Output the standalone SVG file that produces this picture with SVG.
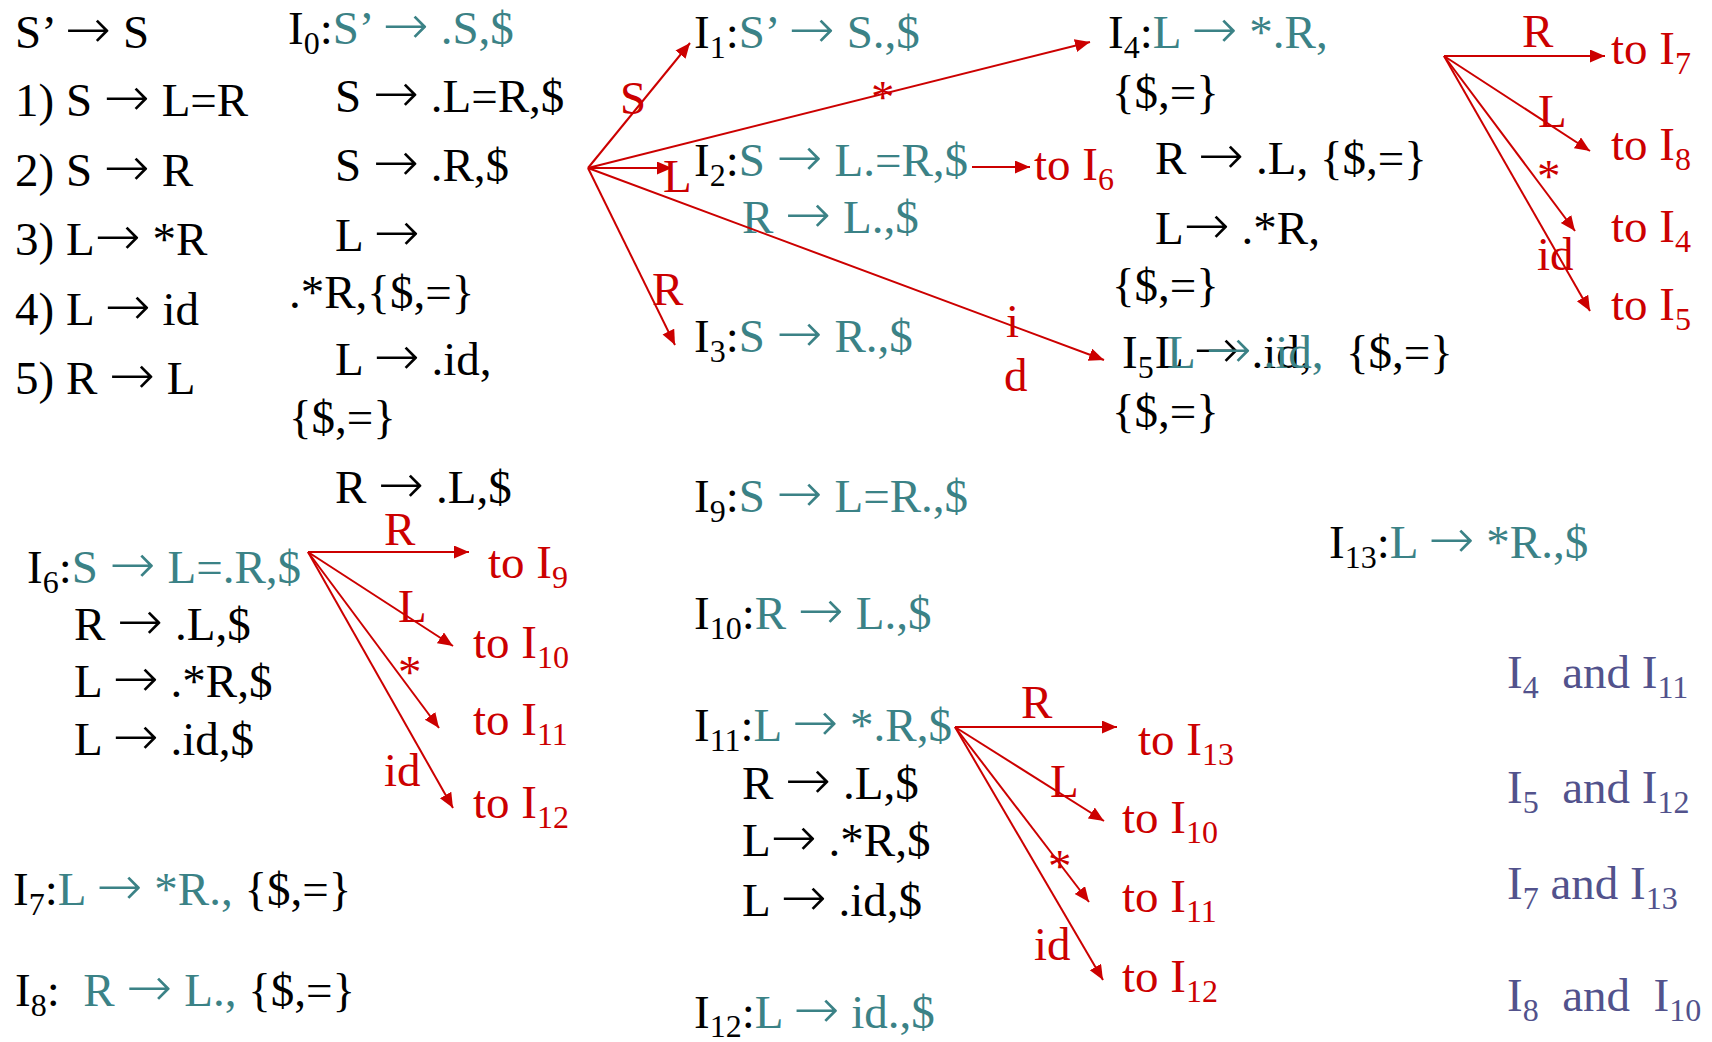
<svg xmlns="http://www.w3.org/2000/svg" width="1712" height="1042" viewBox="0 0 1712 1042">
<style>
text { font-family: "Liberation Serif", "Times New Roman", serif; font-size: 47px; fill: #000; }
.a { font-family: "DejaVu Sans", sans-serif; font-size: 55px; font-weight: 200; }
.c { fill: #3b8286; }
.r { fill: #cc0000; }
.p { fill: #52528c; }
.s { font-size: 32px; }
.e { stroke: #cc0000; stroke-width: 2; fill: none; marker-end: url(#ah); }
</style>
<defs>
<marker id="ah" markerUnits="userSpaceOnUse" markerWidth="16" markerHeight="14" refX="15" refY="6.5" orient="auto">
<path d="M0,0 L15,6.5 L0,13 z" fill="#cc0000"/>
</marker>
</defs>
<rect width="1712" height="1042" fill="#fff"/>

<g id="grammar">
<text x="15" y="48">S’ <tspan class="a">→</tspan> S</text>
<text x="15" y="116">1) S <tspan class="a">→</tspan> L=R</text>
<text x="15" y="186">2) S <tspan class="a">→</tspan> R</text>
<text x="15" y="255">3) L<tspan class="a">→</tspan> *R</text>
<text x="15" y="325">4) L <tspan class="a">→</tspan> id</text>
<text x="15" y="394">5) R <tspan class="a">→</tspan> L</text>
</g>

<g id="I0">
<text x="288" y="44">I<tspan class="s" dy="10">0</tspan><tspan dy="-10">:</tspan><tspan class="c">S’ <tspan class="a">→</tspan> .S,$</tspan></text>
<text x="335" y="112">S <tspan class="a">→</tspan> .L=R,$</text>
<text x="335" y="181">S <tspan class="a">→</tspan> .R,$</text>
<text x="335" y="251">L <tspan class="a">→</tspan></text>
<text x="289" y="308">.*R,{$,=}</text>
<text x="335" y="375">L <tspan class="a">→</tspan> .id,</text>
<text x="289" y="433">{$,=}</text>
<text x="335" y="503">R <tspan class="a">→</tspan> .L,$</text>
</g>

<g id="I1">
<text x="694" y="48">I<tspan class="s" dy="10">1</tspan><tspan dy="-10">:</tspan><tspan class="c">S’ <tspan class="a">→</tspan> S.,$</tspan></text>
</g>

<g id="I2">
<text x="694" y="176">I<tspan class="s" dy="10">2</tspan><tspan dy="-10">:</tspan><tspan class="c">S <tspan class="a">→</tspan> L.=R,$</tspan></text>
<text x="742" y="233" class="c">R <tspan class="a">→</tspan> L.,$</text>
<text x="1034" y="180" class="r">to I<tspan class="s" dy="10">6</tspan></text>
</g>

<g id="I3">
<text x="694" y="352">I<tspan class="s" dy="10">3</tspan><tspan dy="-10">:</tspan><tspan class="c">S <tspan class="a">→</tspan> R.,$</tspan></text>
</g>

<g id="I4">
<text x="1108" y="48">I<tspan class="s" dy="10">4</tspan><tspan dy="-10">:</tspan><tspan class="c">L <tspan class="a">→</tspan> *.R,</tspan></text>
<text x="1112" y="108">{$,=}</text>
<text x="1155" y="174">R <tspan class="a">→</tspan> .L, {$,=}</text>
<text x="1155" y="244">L<tspan class="a">→</tspan> .*R,</text>
<text x="1112" y="301">{$,=}</text>
<text x="1522" y="47" class="r">R</text>
<text x="1611" y="64" class="r">to I<tspan class="s" dy="10">7</tspan></text>
<text x="1538" y="127" class="r">L</text>
<text x="1611" y="160" class="r">to I<tspan class="s" dy="10">8</tspan></text>
<text x="1537" y="192" class="r">*</text>
<text x="1611" y="242" class="r">to I<tspan class="s" dy="10">4</tspan></text>
<text x="1537" y="270" class="r">id</text>
<text x="1611" y="320" class="r">to I<tspan class="s" dy="10">5</tspan></text>
</g>

<g id="I5">
<text x="1122" y="368">I<tspan class="s" dy="10">5</tspan><tspan dy="-10" x="1155">L <tspan class="a">→</tspan> .id,</tspan><tspan x="1346">{$,=}</tspan></text>
<text x="1167" y="368" class="c">L <tspan class="a">→</tspan> .id,</text>
<text x="1112" y="427">{$,=}</text>
</g>

<g id="I6">
<text x="27" y="583">I<tspan class="s" dy="10">6</tspan><tspan dy="-10">:</tspan><tspan class="c">S <tspan class="a">→</tspan> L=.R,$</tspan></text>
<text x="74" y="640">R <tspan class="a">→</tspan> .L,$</text>
<text x="74" y="697">L <tspan class="a">→</tspan> .*R,$</text>
<text x="74" y="755">L <tspan class="a">→</tspan> .id,$</text>
<text x="384" y="545" class="r">R</text>
<text x="488" y="578" class="r">to I<tspan class="s" dy="10">9</tspan></text>
<text x="398" y="622" class="r">L</text>
<text x="473" y="658" class="r">to I<tspan class="s" dy="10">10</tspan></text>
<text x="398" y="688" class="r">*</text>
<text x="473" y="735" class="r">to I<tspan class="s" dy="10">11</tspan></text>
<text x="384" y="786" class="r">id</text>
<text x="473" y="818" class="r">to I<tspan class="s" dy="10">12</tspan></text>
</g>

<g id="I7">
<text x="13" y="905">I<tspan class="s" dy="10">7</tspan><tspan dy="-10">:</tspan><tspan class="c">L <tspan class="a">→</tspan> *R.,</tspan> {$,=}</text>
</g>

<g id="I8">
<text x="15" y="1006" xml:space="preserve">I<tspan class="s" dy="10">8</tspan><tspan dy="-10">:  </tspan><tspan class="c">R <tspan class="a">→</tspan> L.,</tspan> {$,=}</text>
</g>

<g id="I9">
<text x="694" y="512">I<tspan class="s" dy="10">9</tspan><tspan dy="-10">:</tspan><tspan class="c">S <tspan class="a">→</tspan> L=R.,$</tspan></text>
</g>

<g id="I10">
<text x="694" y="629">I<tspan class="s" dy="10">10</tspan><tspan dy="-10">:</tspan><tspan class="c">R <tspan class="a">→</tspan> L.,$</tspan></text>
</g>

<g id="I11">
<text x="694" y="741">I<tspan class="s" dy="10">11</tspan><tspan dy="-10">:</tspan><tspan class="c">L <tspan class="a">→</tspan> *.R,$</tspan></text>
<text x="742" y="799">R <tspan class="a">→</tspan> .L,$</text>
<text x="742" y="856">L<tspan class="a">→</tspan> .*R,$</text>
<text x="742" y="916">L <tspan class="a">→</tspan> .id,$</text>
<text x="1021" y="718" class="r">R</text>
<text x="1138" y="755" class="r">to I<tspan class="s" dy="10">13</tspan></text>
<text x="1050" y="797" class="r">L</text>
<text x="1122" y="833" class="r">to I<tspan class="s" dy="10">10</tspan></text>
<text x="1048" y="882" class="r">*</text>
<text x="1122" y="912" class="r">to I<tspan class="s" dy="10">11</tspan></text>
<text x="1034" y="960" class="r">id</text>
<text x="1122" y="992" class="r">to I<tspan class="s" dy="10">12</tspan></text>
</g>

<g id="I12">
<text x="694" y="1028">I<tspan class="s" dy="9">12</tspan><tspan dy="-9">:</tspan><tspan class="c">L <tspan class="a">→</tspan> id.,$</tspan></text>
</g>

<g id="I13">
<text x="1329" y="558">I<tspan class="s" dy="10">13</tspan><tspan dy="-10">:</tspan><tspan class="c">L <tspan class="a">→</tspan> *R.,$</tspan></text>
</g>

<g id="merges">
<text x="1507" y="688" class="p" xml:space="preserve">I<tspan class="s" dy="10">4</tspan><tspan dy="-10">  and I</tspan><tspan class="s" dy="10">11</tspan></text>
<text x="1507" y="803" class="p" xml:space="preserve">I<tspan class="s" dy="10">5</tspan><tspan dy="-10">  and I</tspan><tspan class="s" dy="10">12</tspan></text>
<text x="1507" y="899" class="p" xml:space="preserve">I<tspan class="s" dy="10">7</tspan><tspan dy="-10"> and I</tspan><tspan class="s" dy="10">13</tspan></text>
<text x="1507" y="1011" class="p" xml:space="preserve">I<tspan class="s" dy="10">8</tspan><tspan dy="-10">  and  I</tspan><tspan class="s" dy="10">10</tspan></text>
</g>

<g id="I0-labels">
<text x="620" y="114" class="r">S</text>
<text x="871" y="113" class="r">*</text>
<text x="663" y="192" class="r">L</text>
<text x="652" y="305" class="r">R</text>
<text x="1006" y="337" class="r">i</text>
<text x="1004" y="391" class="r">d</text>
</g>

<g id="connectors">
<line class="e" x1="588" y1="168" x2="690" y2="43"/>
<line class="e" x1="588" y1="168" x2="1090" y2="42"/>
<line class="e" x1="588" y1="168" x2="672" y2="168"/>
<line class="e" x1="588" y1="168" x2="675" y2="345"/>
<line class="e" x1="588" y1="168" x2="1104" y2="360"/>
<line class="e" x1="972" y1="167" x2="1030" y2="167"/>
<line class="e" x1="1444" y1="56" x2="1605" y2="56"/>
<line class="e" x1="1444" y1="56" x2="1590" y2="151"/>
<line class="e" x1="1444" y1="56" x2="1575" y2="231"/>
<line class="e" x1="1444" y1="56" x2="1590" y2="311"/>
<line class="e" x1="308" y1="552" x2="469" y2="552"/>
<line class="e" x1="308" y1="552" x2="453" y2="646"/>
<line class="e" x1="308" y1="552" x2="439" y2="728"/>
<line class="e" x1="308" y1="552" x2="453" y2="808"/>
<line class="e" x1="955" y1="727" x2="1117" y2="727"/>
<line class="e" x1="955" y1="727" x2="1104" y2="821"/>
<line class="e" x1="955" y1="727" x2="1089" y2="902"/>
<line class="e" x1="955" y1="727" x2="1103" y2="980"/>
</g>
</svg>
